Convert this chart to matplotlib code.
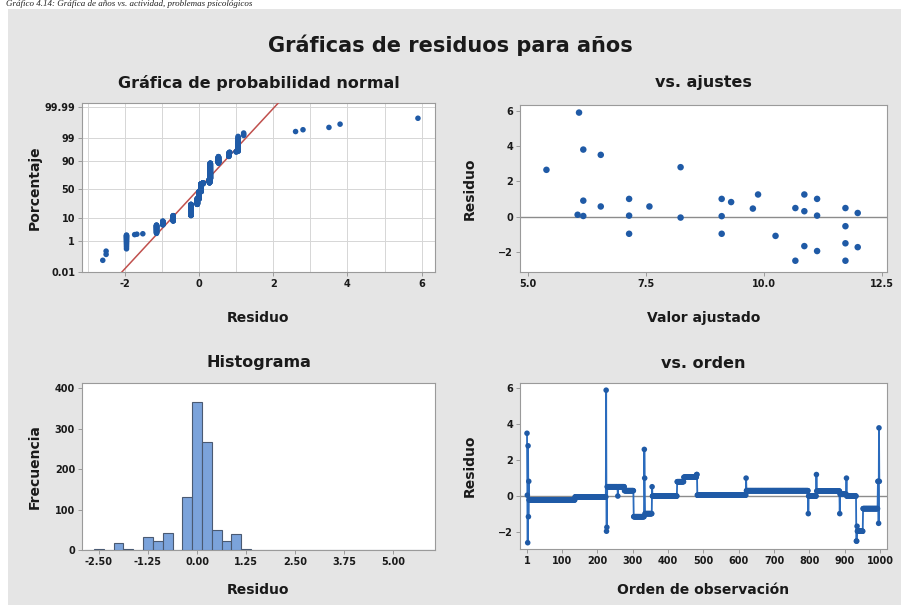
import numpy as np
import matplotlib
matplotlib.use("Agg")
import matplotlib.pyplot as plt
from matplotlib.patches import Rectangle
from statistics import NormalDist

# ---------------- data ----------------
# residual series in observation order, run-length encoded (value, repeat count)
run_values = [3.5, 0.05, -2.6, 2.8, -1.15, 0.82, -0.22, -0.05, 5.9, -1.96, -1.74,
              0.52, 0.0, 0.52, 0.3, -1.15, 2.6, 1.0, -0.98, 0.52, 0.0,
              0.8, 1.05, 1.2, 0.05, 1.0, 0.3, -0.98, 0.0, 1.2, 0.28,
              -0.98, 0.1, 1.0, 0.0, -2.51, -1.68, -1.96, -0.7, 0.82, -1.52,
              3.8, 0.82]
run_counts = [1, 1, 1, 1, 1, 1, 130, 88, 1, 1, 1,
              30, 1, 18, 26, 30, 1, 1, 20, 1, 70,
              19, 36, 2, 138, 1, 175, 1, 22, 1, 65,
              1, 18, 1, 27, 2, 1, 16, 42, 2, 1,
              1, 1]

# residuals versus fitted values (distinct points)
fitted_vals = [5.39, 6.08, 6.05, 6.17, 6.17, 6.17, 6.54, 6.54, 7.14, 7.14, 7.14,
               7.57, 8.23, 8.23, 9.10, 9.10, 9.10, 9.30, 9.76, 9.87, 10.24,
               10.66, 10.66, 10.85, 10.85, 10.85, 11.12, 11.12, 11.12,
               11.72, 11.72, 11.72, 11.72, 11.98, 11.98]
fitted_resid = [2.65, 5.9, 0.1, 3.8, 0.9, 0.03, 3.5, 0.57, 1.0, 0.05, -0.98,
                0.57, 2.8, -0.06, 1.0, 0.02, -0.98, 0.82, 0.45, 1.25, -1.1,
                0.48, -2.51, 1.25, 0.3, -1.68, 1.0, 0.05, -1.96,
                0.48, -0.55, -1.52, -2.51, 0.2, -1.74]

# fitted normal reference line of the probability plot (mean, std. dev.)
line_mean = -0.02
line_sd = 0.555

prob_ticks = [0.01, 1, 10, 50, 90, 99, 99.99]
prob_labels = ["0.01", "1", "10", "50", "90", "99", "99.99"]
hist_ticks = [-2.5, -1.25, 0.0, 1.25, 2.5, 3.75, 5.0]
hist_labels = ["-2.50", "-1.25", "0.00", "1.25", "2.50", "3.75", "5.00"]
order_ticks = [1, 100, 200, 300, 400, 500, 600, 700, 800, 900, 1000]

resid = np.repeat(np.array(run_values), np.array(run_counts))
order = np.arange(1, len(resid) + 1)

# ---------------- style ----------------
BLUE = "#1f5aa6"
PANEL = "#e5e5e5"
SPINE = "#9a9a9a"
TXT = "#1a1a1a"
plt.rcParams["font.family"] = "DejaVu Sans"

fig = plt.figure(figsize=(9.01, 6.05), dpi=100)
fig.patch.set_facecolor("white")
fig.add_artist(Rectangle((8 / 901, 0), 1, 1 - 9 / 605, transform=fig.transFigure,
                         facecolor=PANEL, edgecolor="none", zorder=-10))

fig.text(6 / 901, 1 - 6.5 / 605,
         "Gráfico 4.14: Gráfica de años vs. actividad, problemas psicológicos",
         ha="left", va="baseline", fontsize=6.5, style="italic",
         family="Liberation Serif", color="#222222")

fig.text(0.5, 1 - 45 / 605, "Gráficas de residuos para años", ha="center",
         va="center", fontsize=15, color=TXT, fontweight="bold")


def style_ax(ax):
    ax.set_facecolor("white")
    for s in ax.spines.values():
        s.set_color(SPINE)
        s.set_linewidth(0.8)
    ax.tick_params(axis="both", labelsize=7, colors=TXT, length=3,
                   width=0.7, pad=2, direction="out")
    for lbl in ax.get_xticklabels() + ax.get_yticklabels():
        lbl.set_fontweight("bold")
    ax.tick_params(axis="both", color=SPINE)


def px_axes(l, t, r, b):
    return fig.add_axes([l / 901, 1 - b / 605, (r - l) / 901, (b - t) / 605])


def labels(ax, title, xl, yl, ty, xy, yx):
    cx = (ax.get_position().x0 + ax.get_position().x1) / 2
    fig.text(cx, 1 - ty / 605, title, ha="center", va="center",
             fontsize=11.5, fontweight="bold", color=TXT)
    fig.text(cx, 1 - xy / 605, xl, ha="center", va="center",
             fontsize=10, fontweight="bold", color=TXT)
    cy = (ax.get_position().y0 + ax.get_position().y1) / 2
    fig.text(yx / 901, cy, yl, ha="center", va="center", rotation=90,
             fontsize=10, fontweight="bold", color=TXT)


# ---- normal probability plot ----
ax1 = px_axes(82, 103, 435, 272)
nd = NormalDist()
srt = np.sort(resid)
n = len(srt)
pr = (np.arange(1, n + 1) - 0.3) / (n + 0.4)
zq = np.array([nd.inv_cdf(p) for p in pr])
zz = np.array([-4.5, 4.5])
ax1.plot(line_mean + line_sd * zz, zz, color="#c0504d", lw=1.1, zorder=3)
ax1.scatter(srt, zq, s=16, color=BLUE, edgecolors="none", zorder=4)
ax1.set_xlim(-3.16, 6.36)
ax1.set_ylim(-3.72, 3.88)
ax1.set_xticks([-2, 0, 2, 4, 6])
ax1.set_xticklabels(["-2", "0", "2", "4", "6"])
ax1.set_xticks(np.arange(-3, 7, 1), minor=True)
ax1.set_yticks([nd.inv_cdf(p / 100) for p in prob_ticks])
ax1.set_yticklabels(prob_labels)
ax1.grid(True, which="both", color="#d6d6d6", lw=0.7, zorder=0)
ax1.tick_params(which="minor", length=0)
ax1.set_axisbelow(True)
style_ax(ax1)
labels(ax1, "Gráfica de probabilidad normal", "Residuo", "Porcentaje", 83, 318, 35)

# ---- versus fits ----
ax2 = px_axes(520, 105, 887, 272)
ax2.axhline(0, color="#8c8c8c", lw=1.0, zorder=1)
ax2.scatter(fitted_vals, fitted_resid, s=22, color=BLUE, edgecolors="none", zorder=3)
ax2.set_xlim(4.83, 12.6)
ax2.set_ylim(-3.15, 6.33)
ax2.set_xticks([5.0, 7.5, 10.0, 12.5])
ax2.set_xticklabels(["5.0", "7.5", "10.0", "12.5"])
ax2.set_yticks([-2, 0, 2, 4, 6])
style_ax(ax2)
labels(ax2, "vs. ajustes", "Valor ajustado", "Residuo", 83, 318, 470)

# ---- histogram ----
ax3 = px_axes(82, 383, 435, 550)
bins = np.arange(-2.875, 6.125 + 0.001, 0.25)
ax3.hist(resid, bins=bins, color="#7ba3db", edgecolor="#4a5a72", linewidth=0.8,
         zorder=3)
ax3.set_xlim(-2.93, 6.06)
ax3.set_ylim(0, 413)
ax3.set_xticks(hist_ticks)
ax3.set_xticklabels(hist_labels)
ax3.set_yticks([0, 100, 200, 300, 400])
style_ax(ax3)
labels(ax3, "Histograma", "Residuo", "Frecuencia", 363, 590, 35)

# ---- versus order ----
ax4 = px_axes(520, 383, 887, 549)
ax4.axhline(0, color="#8c8c8c", lw=1.0, zorder=1)
ax4.plot(order, resid, color="#2a6bbd", lw=1.3, zorder=2)
ax4.scatter(order, resid, s=16, color=BLUE, edgecolors="none", zorder=3)
ax4.set_xlim(-18.8, 1019.7)
ax4.set_ylim(-2.95, 6.3)
ax4.set_xticks(order_ticks)
ax4.set_yticks([-2, 0, 2, 4, 6])
style_ax(ax4)
labels(ax4, "vs. orden", "Orden de observación", "Residuo", 363, 590, 470)

fig.savefig("out.png", dpi=100, facecolor=fig.get_facecolor())
